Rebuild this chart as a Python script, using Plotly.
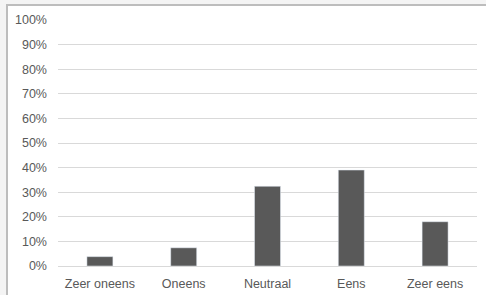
import plotly.graph_objects as go

categories = ["Zeer oneens", "Oneens", "Neutraal", "Eens", "Zeer eens"]
values = [3.8, 7.4, 32.4, 39.0, 18.0]
tick_vals = [0, 10, 20, 30, 40, 50, 60, 70, 80, 90, 100]
tick_text = [f"{v}%" for v in tick_vals]

W, H = 486, 295
L, R, T, B = 58, 9, 20, 29
pw, ph = W - L - R, H - T - B

def px(x):
    return (x - L) / pw

def py(y):
    return (H - B - y) / ph

fig = go.Figure(go.Bar(x=categories, y=values, marker_color="#595959", width=0.31))

fig.update_layout(
    width=W, height=H,
    margin=dict(l=L, r=R, t=T, b=B, pad=0),
    paper_bgcolor="white", plot_bgcolor="white",
    font=dict(family="Liberation Sans, Arial, sans-serif", size=12.5, color="#595959"),
    showlegend=False,
    shapes=[
        dict(type="rect", xref="paper", yref="paper", x0=px(-5), x1=px(W + 5), y0=py(4), y1=py(-5),
             fillcolor="#f4f4f4", line_width=0, layer="below"),
        dict(type="rect", xref="paper", yref="paper", x0=px(-5), x1=px(6), y0=py(H + 5), y1=py(-5),
             fillcolor="#f4f4f4", line_width=0, layer="below"),
        dict(type="line", xref="paper", yref="paper", x0=px(6), x1=px(W + 5), y0=py(5), y1=py(5),
             line=dict(color="#bdbdbd", width=2)),
        dict(type="line", xref="paper", yref="paper", x0=px(7), x1=px(7), y0=py(5), y1=py(H + 5),
             line=dict(color="#bdbdbd", width=2)),
    ],
)
fig.update_xaxes(showgrid=False, showline=False, zeroline=False, ticks="", ticklabelstandoff=8,
                 automargin=False)
fig.update_yaxes(range=[0, 100], tickmode="array", tickvals=tick_vals, ticktext=tick_text,
                 showgrid=True, gridcolor="#d9d9d9", gridwidth=1,
                 zeroline=True, zerolinecolor="#d9d9d9", zerolinewidth=1, showline=False,
                 ticks="", ticklabelstandoff=10, automargin=False)

fig.write_html("out.html", config={"displayModeBar": False},
               post_script="document.body.style.margin='0';document.body.style.overflow='hidden';")
